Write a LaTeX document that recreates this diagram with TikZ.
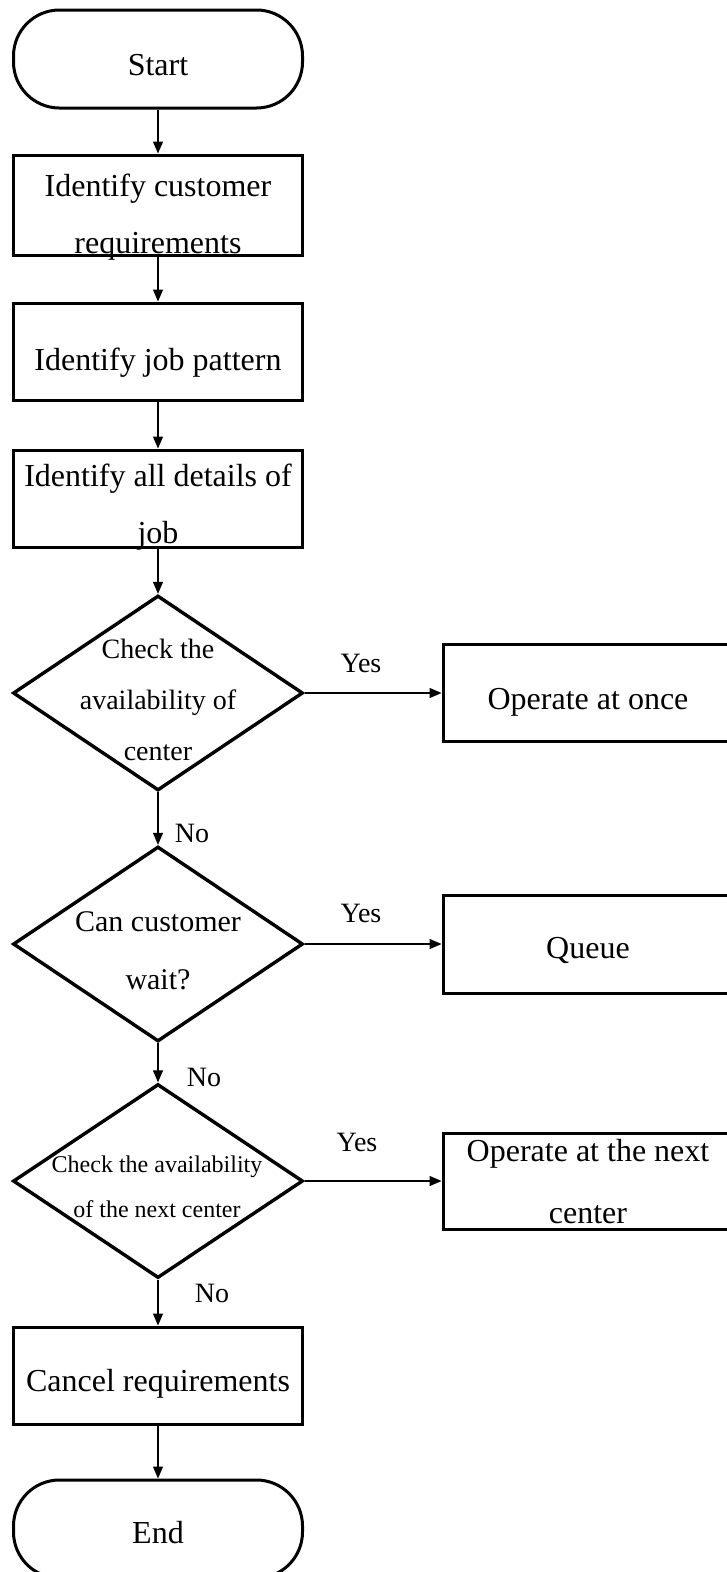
\documentclass[tikz,border=0pt]{standalone}
\usepackage{fontspec}
\setmainfont{Liberation Serif}
\usetikzlibrary{shapes.geometric,arrows.meta}
\begin{document}
\begin{tikzpicture}[x=1pt,y=-1pt,
  box/.style={draw, line width=3pt, minimum width=289pt, inner sep=0pt},
  sidebox/.style={box, minimum width=290pt},
  terminal/.style={box, rounded corners=46pt, minimum height=98pt},
  decision/.style={draw, diamond, line width=3.4pt, minimum width=290pt, minimum height=195pt, inner sep=0pt},
  txt/.style={font=\fontsize{32}{57}\selectfont, align=center, inner sep=0pt},
  dtxt/.style={txt, font=\fontsize{28}{51}\selectfont},
  flow/.style={line width=1.2pt, -{Triangle[length=12pt,width=10pt]}},
  lbl/.style={font=\fontsize{28}{30}\selectfont, inner sep=0pt}
]
\useasboundingbox (0,0) rectangle (726,1572);

% main column shapes
\node[terminal] (start) at (158,59) {};
\node[box, minimum height=100pt] (id1) at (158,205) {};
\node[box, minimum height=97pt] (id2) at (158,351.5) {};
\node[box, minimum height=97pt] (id3) at (158,498.5) {};
\node[decision] (d1) at (158,693) {};
\node[decision] (d2) at (158,944) {};
\node[decision, minimum height=194pt] (d3) at (158,1181) {};
\node[box, minimum height=97pt] (cancel) at (158,1375.5) {};
\node[terminal] (end) at (158,1529) {};

% outcome boxes on the right
\node[sidebox, minimum height=97pt] (r1) at (588,693) {};
\node[sidebox, minimum height=98pt] (r2) at (588,944) {};
\node[sidebox, minimum height=96pt] (r3) at (588,1181) {};

% texts
\node[txt] (tstart) at (158,65) {Start};
\node[txt] (t1) at (158,217) {Identify customer\\requirements};
\node[txt] (t2) at (158,363) {Identify job pattern};
\node[txt] (t3) at (158,507) {Identify all details of\\job};
\node[dtxt] (td1) at (158,700) {Check the\\availability of\\center};
\node[txt, font=\fontsize{30}{58}\selectfont] (td2) at (158,951) {Can customer\\wait?};
\node[txt, font=\fontsize{24}{45}\selectfont] (td3) at (157,1187) {Check the availability\\of the next center};
\node[txt] (tr1) at (588,702) {Operate at once};
\node[txt] (tr2) at (588,950) {Queue};
\node[txt, font=\fontsize{32}{62}\selectfont] (tr3) at (588,1182) {Operate at the next\\center};
\node[txt] (tcancel) at (158,1384) {Cancel requirements};
\node[txt] (tend) at (158,1533) {End};

% connectors
\draw[flow] (start) -- (id1);
\draw[flow] (id1) -- (id2);
\draw[flow] (id2) -- (id3);
\draw[flow] (id3) -- (d1);
\draw[flow] (d1) -- (d2);
\draw[flow] (d2) -- (d3);
\draw[flow] (d3) -- (cancel);
\draw[flow] (cancel) -- (end);
\draw[flow] (d1) -- (r1);
\draw[flow] (d2) -- (r2);
\draw[flow] (d3) -- (r3);

% branch labels
\node[lbl] (y1) at (361,663) {Yes};
\node[lbl] (y2) at (361,913) {Yes};
\node[lbl] (y3) at (357,1142) {Yes};
\node[lbl] (n1) at (192,833) {No};
\node[lbl] (n2) at (204,1077) {No};
\node[lbl] (n3) at (212,1293) {No};
\end{tikzpicture}
\end{document}
